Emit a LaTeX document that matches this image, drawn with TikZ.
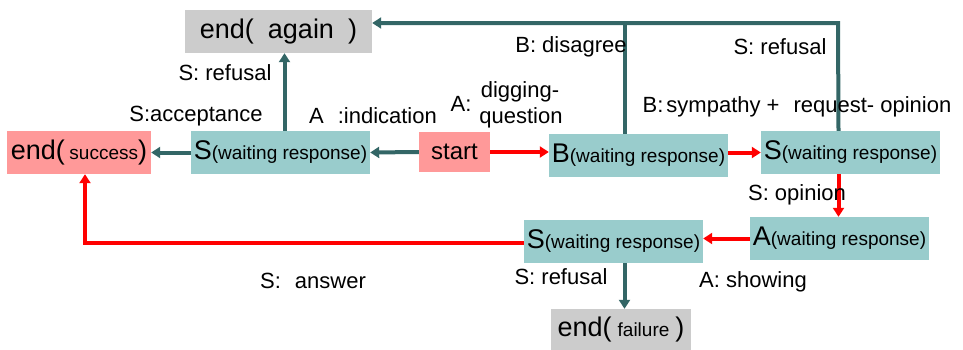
\documentclass[tikz,border=0pt]{standalone}
\usepackage{fontspec}
\setmainfont{Liberation Sans}
\usetikzlibrary{arrows.meta}
\definecolor{boxteal}{RGB}{153,204,204}
\definecolor{boxpink}{RGB}{255,153,153}
\definecolor{boxgrey}{RGB}{204,204,204}
\definecolor{lineteal}{RGB}{51,102,102}
\definecolor{linered}{RGB}{255,0,0}
\newcommand{\bigf}{\fontsize{27}{30}\selectfont}
\newcommand{\smallf}{\fontsize{19}{22}\selectfont}
\newcommand{\labf}{\fontsize{22}{26}\selectfont}
\begin{document}
\begin{tikzpicture}[x=1pt,y=-1pt,
  state/.style={fill=boxteal,inner sep=0pt,minimum width=179pt,minimum height=43pt,anchor=center},
  pinkbox/.style={fill=boxpink,inner sep=0pt,minimum height=43pt,anchor=center},
  greybox/.style={fill=boxgrey,inner sep=0pt,minimum height=43pt,anchor=center},
  lab/.style={inner sep=0pt,font=\labf,anchor=center},
  tarr/.style={draw=lineteal,line width=4pt,-{Triangle[length=9pt,width=11pt]}},
  tline/.style={draw=lineteal,line width=4pt},
  rarr/.style={draw=linered,line width=4pt,-{Triangle[length=9pt,width=11pt]}},
]
\useasboundingbox (0,0) rectangle (963,349);
% nodes
\node[greybox,minimum width=187pt] (again) at (278.5,31.5) {\bigf end(\hspace{14pt}again\hspace{14pt})};
\node[pinkbox,minimum width=144pt] (succ) at (79,152.5) {\bigf end(\,{\smallf success})};
\node[state] (s1) at (280.5,152.5) {\bigf S{\smallf(waiting response)}};
\node[pinkbox,minimum width=71pt,minimum height=40pt] (start) at (454.5,152) {\fontsize{24}{28}\selectfont start};
\node[state] (b) at (638.5,155.5) {\bigf B{\smallf(waiting response)}};
\node[state] (s2) at (850.5,152.5) {\bigf S{\smallf(waiting response)}};
\node[state] (a) at (839.5,238.5) {\bigf A{\smallf(waiting response)}};
\node[state] (s3) at (613.5,241.5) {\bigf S{\smallf(waiting response)}};
\node[greybox,minimum width=140pt,minimum height=41pt] (fail) at (621,329.5) {\bigf end(\hspace{6pt}{\smallf failure}\hspace{6pt})};
% coordinates
\coordinate (j) at (838,23);
\coordinate (c) at (85,243);
% connectors
\draw[tarr] (start.west) -- (s1.east);
\draw[tarr] (s1.west) -- (succ.east);
\draw[tarr] ([xshift=4pt]s1.north) -- ([xshift=4pt]s1.north |- again.south);
\draw[tarr] ([xshift=-12pt]s2.north) -- (j) -- (again.east |- j);
\draw[tline] ([xshift=-14pt]b.north) -- ([xshift=-14pt]b.north |- j);
\draw[rarr] (start.east) -- (start.east -| b.west);
\draw[rarr] (b.east |- s2.west) -- (s2.west);
\draw[rarr] ([xshift=-12pt]s2.south) -- ([xshift=-12pt]s2.south |- a.north);
\draw[rarr] (a.west) -- (a.west -| s3.east);
\draw[rarr] (s3.west |- c) -- (c) -- (c |- succ.south);
\draw[tarr] ([xshift=11pt]s3.south) -- ([xshift=11pt]s3.south |- fail.north);
% labels
\node[lab] (l1) at (225,73) {S: refusal};
\node[lab] (l2) at (196,116) {S:acceptance};
\node[lab] (l3) at (373,116) {A\hspace{14pt}:indication};
\node[lab] (l4) at (461,104) {A:};
\node[lab] (l5) at (520,92) {digging-};
\node[lab] (l6) at (521,118) {question};
\node[lab] (l7) at (571,47) {B: disagree};
\node[lab] (l8) at (780,47) {S: refusal};
\node[lab] (l9) at (797,107) {B:\hspace{3pt}sympathy +\hspace{14pt}request- opinion};
\node[lab] (l10) at (797,195) {S: opinion};
\node[lab] (l11) at (561,277) {S: refusal};
\node[lab] (l12) at (753,282) {A: showing};
\node[lab] (l13) at (313,281) {S:\hspace{14pt}answer};
\end{tikzpicture}
\end{document}
